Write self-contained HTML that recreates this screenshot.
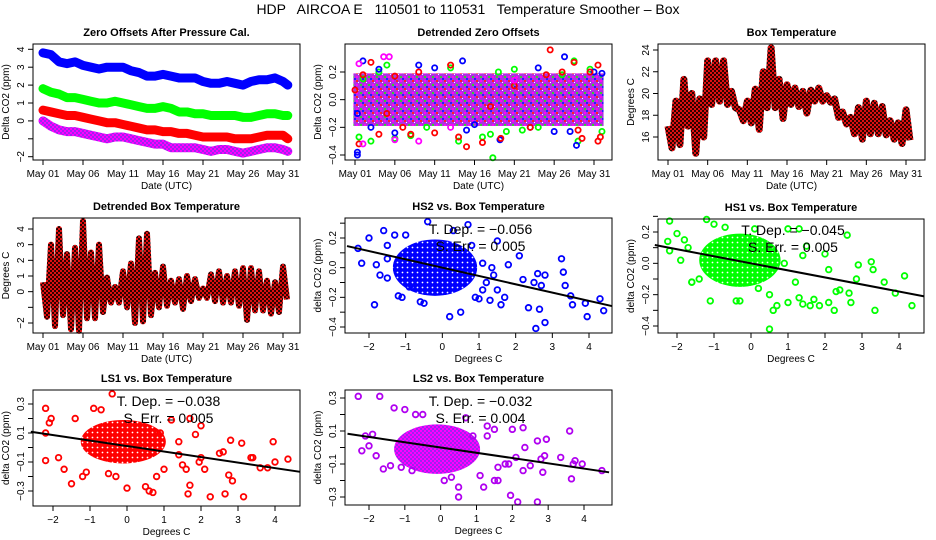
<!DOCTYPE html>
<html><head><meta charset="utf-8"><style>
html,body{margin:0;padding:0;background:#fff}
svg{display:block;font-family:"Liberation Sans",sans-serif}
</style></head><body>
<svg id="fig" width="936" height="540" viewBox="0 0 936 540">
<defs>
<pattern id="pat-blue" width="5" height="5" patternUnits="userSpaceOnUse"><rect width="5" height="5" fill="#0000ff"/><circle cx="2.5" cy="2.5" r="0.9" fill="#fff"/></pattern>
<pattern id="pat-green" width="5" height="5" patternUnits="userSpaceOnUse"><rect width="5" height="5" fill="#00ff00"/><circle cx="2.5" cy="2.5" r="0.9" fill="#fff"/></pattern>
<pattern id="pat-red" width="5" height="5" patternUnits="userSpaceOnUse"><rect width="5" height="5" fill="#ff0000"/><circle cx="2.5" cy="2.5" r="0.9" fill="#fff"/></pattern>
<pattern id="pat-purple" width="4" height="4" patternUnits="userSpaceOnUse"><rect width="4" height="4" fill="#a020f0"/><rect x="2" y="0" width="2" height="2" fill="#ff00ff"/><rect x="0" y="2" width="2" height="2" fill="#ff00ff"/></pattern>
<pattern id="pat-mix" width="8" height="8" patternUnits="userSpaceOnUse"><rect width="8" height="8" fill="#b030e0"/><rect x="0" y="0" width="2" height="2" fill="#ff00ff"/><rect x="4" y="4" width="2" height="2" fill="#ff00ff"/><rect x="4" y="0" width="2" height="2" fill="#ff2020"/><rect x="0" y="4" width="2" height="2" fill="#30d030"/><rect x="2" y="6" width="2" height="2" fill="#2020ff"/><rect x="6" y="2" width="1" height="1" fill="#fff"/></pattern>
<pattern id="pat-temp" width="4" height="4" patternUnits="userSpaceOnUse"><rect width="4" height="4" fill="#e01010"/><rect x="0" y="0" width="2" height="2" fill="#300000"/><rect x="2" y="2" width="2" height="2" fill="#300000"/></pattern>
</defs>
<text x="468" y="14" font-size="14" text-anchor="middle" xml:space="preserve" style="white-space:pre">HDP   AIRCOA E   110501 to 110531   Temperature Smoother – Box</text>
</svg>
<script>
// ---------- DATA ----------
const dayTicks = [0,5,10,15,20,25,30];
const dayLabels = ["May 01","May 06","May 11","May 16","May 21","May 26","May 31"];
const zeroDays = [0,1,2,3,4,5,6,7,8,9,10,11,12,13,14,15,16,17,18,19,20,21,22,23,24,25,26,27,28,29,30,30.6];
const zeroBlue = [3.8,3.7,3.3,3.2,3.3,3.1,3.0,2.9,3.0,3.0,3.0,2.8,2.7,2.5,2.5,2.6,2.5,2.4,2.4,2.4,2.2,2.1,2.1,2.2,2.1,2.0,2.2,2.3,2.3,2.4,2.2,2.0];
const zeroGreen = [1.8,1.6,1.5,1.3,1.3,1.2,1.1,1.0,1.0,1.1,1.0,0.9,0.8,0.7,0.7,0.8,0.7,0.5,0.5,0.4,0.4,0.3,0.3,0.3,0.3,0.2,0.2,0.3,0.4,0.4,0.3,0.3];
const zeroRed = [0.6,0.5,0.4,0.3,0.3,0.2,0.1,0.0,-0.1,-0.1,-0.2,-0.3,-0.4,-0.5,-0.5,-0.6,-0.6,-0.7,-0.7,-0.8,-0.9,-0.9,-0.9,-0.9,-1.0,-1.0,-1.0,-0.9,-0.8,-0.8,-0.8,-1.0];
const zeroPurple = [0.0,-0.3,-0.5,-0.6,-0.6,-0.7,-0.8,-0.9,-1.0,-0.9,-0.9,-1.0,-1.1,-1.2,-1.3,-1.3,-1.5,-1.5,-1.5,-1.5,-1.6,-1.7,-1.6,-1.6,-1.7,-1.8,-1.7,-1.6,-1.5,-1.5,-1.6,-1.7];

const detBandLo = -0.19, detBandHi = 0.19;
const detRed = [[0,0.07],[0.5,-0.32],[1,0.18],[2,0.27],[3,-0.25],[4,-0.1],[5,0.17],[6,-0.2],[7,-0.25],[8,0.2],[10,-0.24],[12,0.25],[13,-0.27],[14,-0.34],[16,-0.31],[17,-0.05],[18.3,-0.28],[20,0.1],[22,-0.2],[24,0.18],[24.5,0.36],[26,0.2],[27.5,0.27],[28,-0.22],[28.5,-0.28],[29.5,0.2],[30.5,0.25],[30.8,-0.27],[30.5,-0.3]];
const detGreen = [[0.5,-0.27],[1,0.15],[2,-0.3],[3,0.2],[4,0.25],[5,-0.28],[7,-0.26],[9,-0.2],[12,0.23],[13,-0.3],[16,-0.27],[17,-0.25],[17.3,-0.42],[18,0.2],[19,-0.23],[20,0.22],[21,-0.22],[23,-0.2],[26,0.18],[27.5,0.28],[28,-0.3],[29.5,0.22],[31,-0.23]];
const detBlue = [[0.3,-0.1],[0.3,-0.38],[0.3,-0.4],[1,0.28],[2,-0.2],[3,0.22],[5,-0.24],[8,0.25],[10,0.23],[13.5,0.28],[14,-0.22],[15,-0.18],[18.2,-0.29],[22,-0.2],[23,0.23],[25,-0.23],[26.3,0.31],[27,-0.23],[27.8,-0.33],[30,0.2],[31,0.19]];
const detMagenta = [[0.5,0.26],[1,-0.32],[3.6,0.31],[4.3,0.31],[5,-0.29],[8,-0.3],[12,-0.2],[20,0.14]];

const boxHi = [17,19.3,21.3,20,19.5,23,23,23,20.2,18.5,19.3,20.4,22,24.2,21.3,20.8,20.5,20.2,20.3,20.5,19.8,19.5,18.3,17.8,18.7,19.3,19.1,18.8,17.5,17.3,18.5];
const boxLo = [15,15.3,17,14.5,16,19,19.3,19,18.7,17.5,17.3,16.7,18.7,18.7,17.7,19,18.8,18.2,19.3,19.3,19.2,17.8,17.2,16.3,15.8,16.3,16.3,16.2,15.8,15.4,15.7];
const dbHi = [0.6,3,4,2.4,2.8,4.5,2.5,3,0.9,0.3,1.3,1.8,3.4,3.7,1.2,1.6,0.7,0.8,1,0.8,0.2,1.1,1.3,1,1.3,1.5,1.5,1.3,0.7,0.6,1.6];
const dbLo = [-1.6,-2.2,-1.5,-2.4,-2.5,-1.7,-1.7,-1.3,-0.7,-0.7,-1,-2,-1.9,-1.5,-1,-0.9,-0.7,-1.1,-0.6,-0.4,-0.4,-0.6,-0.7,-0.7,-0.9,-1.8,-1.2,-1.2,-1.4,-1.3,-0.5];

const hs2Pts = [[-2.3,0.13],[-2.2,0.03],[-2.0,0.2],[-1.8,0.02],[-1.85,-0.25],[-1.6,0.25],[-1.5,0.15],[-1.7,-0.05],[-1.5,-0.07],[-1.2,-0.19],[-1.1,-0.2],[-0.9,-0.13],[-0.6,-0.23],[-0.4,0.31],[-0.5,-0.24],[0.2,-0.33],[0.5,-0.3],[0.7,0.29],[0.9,-0.2],[1.0,-0.21],[1.1,0.03],[1.3,-0.22],[1.5,0.18],[1.6,-0.25],[1.7,-0.2],[1.8,0.02],[2.1,0.08],[2.2,-0.08],[2.35,-0.27],[2.5,-0.1],[2.55,-0.41],[2.6,-0.04],[2.65,-0.28],[2.7,-0.12],[2.8,-0.37],[2.8,-0.05],[3.25,0.06],[3.3,-0.03],[3.35,-0.12],[3.5,-0.19],[3.55,-0.25],[3.9,-0.24],[3.95,-0.33],[4.3,-0.21],[4.4,-0.29],[1.35,0.0],[1.4,-0.05],[1.2,-0.1],[0.8,0.15],[0.3,0.25],[-1.0,0.22],[-1.3,0.22],[-1.5,0.06],[1.5,-0.15],[1.1,-0.15]];
const hs1Pts = [[-2.2,0.27],[-2.25,0.14],[-2.2,0.08],[-2.0,0.19],[-1.9,0.02],[-1.8,0.15],[-1.6,-0.12],[-1.4,-0.1],[-1.1,-0.24],[-1.2,0.28],[-1.0,0.25],[-0.7,0.23],[-0.4,-0.24],[-0.3,-0.24],[0.1,0.22],[0.2,-0.16],[0.5,-0.42],[0.6,-0.3],[0.7,-0.27],[0.5,-0.2],[1.0,-0.25],[1.0,0.22],[1.3,-0.22],[1.3,0.22],[1.4,-0.26],[1.6,-0.27],[1.7,-0.23],[1.85,-0.27],[2.0,0.06],[2.1,-0.25],[2.1,-0.04],[2.25,-0.3],[2.3,-0.18],[2.4,-0.17],[2.6,0.18],[2.65,-0.19],[2.7,-0.25],[2.85,-0.1],[2.9,-0.01],[3.25,0.01],[3.3,-0.04],[3.35,-0.3],[3.6,-0.12],[3.9,-0.19],[4.15,-0.08],[4.35,-0.27],[1.4,0.05],[1.5,0.11],[1.2,-0.12],[0.9,0.0],[-1.6,-0.12],[-1.7,0.1]];
const ls1Pts = [[-2.2,0.27],[-2.2,0.1],[-2.05,0.2],[-2.1,0.17],[-2.2,-0.09],[-1.85,-0.07],[-1.7,-0.15],[-1.5,-0.25],[-1.4,0.2],[-1.2,-0.2],[-1.1,-0.17],[-0.9,0.27],[-0.7,0.26],[-0.5,-0.18],[-0.4,0.37],[-0.3,-0.2],[0.0,-0.28],[0.5,-0.27],[0.6,-0.3],[0.7,-0.31],[0.8,-0.2],[1.2,0.19],[1.4,0.04],[1.5,-0.12],[1.6,-0.15],[1.65,-0.32],[1.7,-0.26],[1.7,0.2],[1.85,0.09],[1.95,-0.1],[2.0,0.15],[2.0,-0.07],[2.1,-0.15],[2.25,-0.34],[2.5,-0.04],[2.6,-0.03],[2.8,0.05],[2.75,-0.19],[2.85,-0.23],[2.65,-0.32],[3.1,0.03],[3.15,-0.34],[3.35,-0.07],[3.4,-0.07],[3.6,-0.14],[3.8,-0.14],[3.95,0.04],[4.0,-0.1],[4.35,-0.08],[1.4,-0.05],[1.0,-0.15],[0.9,0.1]];
const ls2Pts = [[-2.3,0.31],[-1.7,0.31],[-1.3,0.24],[-1.0,0.23],[-2.2,-0.02],[-2.0,0.01],[-2.1,0.07],[-1.9,0.08],[-1.8,-0.05],[-1.6,-0.13],[-1.4,-0.11],[-1.1,-0.12],[-0.8,-0.14],[-0.5,0.2],[-0.7,0.2],[0.1,-0.2],[0.3,-0.18],[0.5,-0.24],[0.5,-0.3],[0.7,0.18],[0.9,0.07],[1.1,-0.17],[1.2,-0.24],[1.3,0.07],[1.5,-0.2],[1.6,-0.2],[1.6,-0.12],[1.8,-0.1],[1.9,-0.1],[1.95,-0.29],[2.0,0.11],[2.1,-0.06],[2.15,-0.33],[2.3,0.12],[2.3,-0.14],[2.35,0.0],[2.5,-0.11],[2.7,0.04],[2.7,-0.33],[2.8,-0.07],[2.85,-0.15],[2.9,-0.05],[2.95,0.05],[3.35,-0.06],[3.6,0.1],[3.65,-0.19],[3.7,-0.1],[3.75,-0.08],[3.95,-0.1],[4.5,-0.14],[1.3,0.13],[1.5,0.11]];
const hs2Core = [-0.2,0.0,1.15,0.19];
const hs1Core = [-0.3,0.02,1.1,0.17];
const ls1Core = [-0.1,0.04,1.15,0.15];
const ls2Core = [-0.1,-0.01,1.2,0.15];
const hs2Fit = [0.0,-0.056]; const hs1Fit = [0.0,-0.045]; const ls1Fit = [0.01,-0.038]; const ls2Fit = [0.0,-0.032];
const hs2Stats = ["−0.056","0.005"]; const hs1Stats = ["−0.045","0.005"]; const ls1Stats = ["−0.038","0.005"]; const ls2Stats = ["−0.032","0.004"];
const ticks02 = [0.2,0.0,-0.2,-0.4]; const ticks02lab = ["0.2","0.0","−0.2","−0.4"];
const ticks03 = [0.3,0.1,-0.1,-0.3]; const ticks03lab = ["0.3","0.1","−0.1","−0.3"];
const xTicks = [-2,-1,0,1,2,3,4]; const xLabs = ["−2","−1","0","1","2","3","4"];

// ---------- DRAW ----------
const NS = "http://www.w3.org/2000/svg";
const svg = document.getElementById("fig");
function mk(tag, attrs, parent){const e=document.createElementNS(NS,tag);for(const k in attrs)e.setAttribute(k,attrs[k]);(parent||svg).appendChild(e);return e;}
function lin(d0,p0,d1,p1){return v=>p0+(v-d0)*(p1-p0)/(d1-d0);}

function frame(p){
  const g=mk("g",{});
  
  
  const t=mk("text",{x:(p.L+p.R)/2,y:p.T-8,"font-size":11,"font-weight":"bold","text-anchor":"middle"},g);
  t.textContent=p.title;
  
  
  const yl=mk("text",{transform:`translate(${p.L-24},${(p.T+p.B)/2}) rotate(-90)`,"font-size":10,"text-anchor":"middle"},g);
  yl.textContent=p.ylab;
  
  
  const xl=mk("text",{x:(p.L+p.R)/2,y:p.B+29,"font-size":10,"text-anchor":"middle"},g);
  xl.textContent=p.xlab;
  
  
  p.xt.forEach((v,i)=>{const x=p.sx(v);
    const tk=mk("line",{x1:x,x2:x,y1:p.B,y2:p.B+5,stroke:"#000"},g);
    
    
    const tl=mk("text",{x:x,y:p.B+17,"font-size":10,"text-anchor":"middle"},g);
    tl.textContent=p.xl[i];
    
    
  });
  (p.ytMinor||[]).forEach(v=>{const y=p.sy(v);
    const tk=mk("line",{x1:p.L-5,x2:p.L,y1:y,y2:y,stroke:"#000"},g);
    
    
  });
  p.yt.forEach((v,i)=>{const y=p.sy(v);
    const tk=mk("line",{x1:p.L-5,x2:p.L,y1:y,y2:y,stroke:"#000"},g);
    
    
    const tl=mk("text",{transform:`translate(${p.L-9},${y}) rotate(-90)`,"font-size":10,"text-anchor":"middle"},g);
    tl.textContent=p.yl[i];
    
    
  });
  const plot=mk("g",{},g);
  
  
  p.g=plot;
  return p;
}
function boxOn(p){
  const b=mk("rect",{x:p.L,y:p.T,width:p.R-p.L,height:p.B-p.T,fill:"none",stroke:"#000","stroke-width":1},p.g.parentNode);
  
  
}
function pt(p,x,y,color,r){
  const c=mk("circle",{cx:p.sx(x),cy:p.sy(y),r:r||2.6,fill:"none",stroke:color,"stroke-width":1.8},p.g);
  
  
}

// Panel 1: Zero offsets
const p1=frame({name:"zero-offsets-panel",title:"Zero Offsets After Pressure Cal.",ylab:"Delta CO2 (ppm)",xlab:"Date (UTC)",
  L:33,R:300,T:44,B:160,sx:lin(0,43,30,283),sy:lin(4,49.3,-2,156.7),xt:dayTicks,xl:dayLabels,yt:[4,3,2,1,0,-2],yl:["4","3","2","1","0","−2"],ytMinor:[-1]});
[[zeroBlue,"#0000ff","zero-series-blue"],[zeroGreen,"#00ff00","zero-series-green"],[zeroRed,"#ff0000","zero-series-red"],[zeroPurple,"url(#pat-purple)","zero-series-purple"]].forEach(s=>{
  const d=zeroDays.map((t,i)=>(i?"L":"M")+p1.sx(t)+","+p1.sy(s[0][i])).join("");
  const pl=mk("path",{d:d,fill:"none",stroke:s[1],"stroke-width":9,"stroke-linejoin":"round","stroke-linecap":"round"},p1.g);
  
  
});
boxOn(p1);

// Panel 2: Detrended zero offsets
const p2=frame({name:"detrended-zero-offsets-panel",title:"Detrended Zero Offsets",ylab:"Delta CO2 (ppm)",xlab:"Date (UTC)",
  L:345,R:612,T:44,B:160,sx:lin(0,355,30,594),sy:lin(0.2,72,-0.4,155),xt:dayTicks,xl:dayLabels,yt:ticks02,yl:ticks02lab});
const band=mk("rect",{x:p2.sx(-0.2),y:p2.sy(detBandHi),width:p2.sx(31.2)-p2.sx(-0.2),height:p2.sy(detBandLo)-p2.sy(detBandHi),fill:"url(#pat-mix)"},p2.g);


detGreen.forEach(d=>pt(p2,d[0],d[1],"#00ff00"));
detBlue.forEach(d=>pt(p2,d[0],d[1],"#0000ff"));
detRed.forEach(d=>pt(p2,d[0],d[1],"#ff0000"));
detMagenta.forEach(d=>pt(p2,d[0],d[1],"#ff00ff"));
boxOn(p2);

// Panel 3: Box temperature
function oscPath(p,hi,lo){let d="";hi.forEach((h,i)=>{d+=(i?"L":"M")+p.sx(i)+","+p.sy(h)+"L"+p.sx(i+0.5)+","+p.sy(lo[i]);});return d;}
const p3=frame({name:"box-temperature-panel",title:"Box Temperature",ylab:"Degrees C",xlab:"Date (UTC)",
  L:658,R:925,T:44,B:160,sx:lin(0,668,30,906),sy:lin(24,50,16,137),xt:dayTicks,xl:dayLabels,yt:[24,22,20,18,16],yl:["24","22","20","18","16"]});
const bt=mk("path",{d:oscPath(p3,boxHi,boxLo),fill:"none",stroke:"url(#pat-temp)","stroke-width":7,"stroke-linejoin":"round"},p3.g);


boxOn(p3);

// Panel 4: Detrended box temperature
const p4=frame({name:"detrended-box-temperature-panel",title:"Detrended Box Temperature",ylab:"Degrees C",xlab:"Date (UTC)",
  L:33,R:300,T:218,B:333,sx:lin(0,43,30,283),sy:lin(4,229,-2,323),xt:dayTicks,xl:dayLabels,yt:[4,3,2,1,0,-2],yl:["4","3","2","1","0","−2"],ytMinor:[-1]});
const db=mk("path",{d:oscPath(p4,dbHi,dbLo),fill:"none",stroke:"url(#pat-temp)","stroke-width":6,"stroke-linejoin":"round"},p4.g);


boxOn(p4);

// Scatter panels
function scatter(cfg,pts,core,fit,stats,color,fillPat){
  const p=frame(cfg);
  const e=mk("ellipse",{cx:p.sx(core[0]),cy:p.sy(core[1]),rx:p.sx(core[0]+core[2])-p.sx(core[0]),ry:p.sy(core[1])-p.sy(core[1]+core[3]),fill:fillPat},p.g);
  
  
  pts.forEach(d=>pt(p,d[0],d[1],color,2.8));
  const x0=-2.6,x1=4.7;
  const fl=mk("line",{x1:p.sx(x0),y1:p.sy(fit[0]+fit[1]*x0),x2:p.sx(x1),y2:p.sy(fit[0]+fit[1]*x1),stroke:"#000","stroke-width":2},p.g);
  
  
  const cx=(p.L+p.R)/2+2;
  const t1=mk("text",{x:cx,y:p.T+16,"font-size":14,"text-anchor":"middle"},p.g);
  t1.textContent="T. Dep. =  "+stats[0];
  
  
  const t2=mk("text",{x:cx,y:p.T+33,"font-size":14,"text-anchor":"middle"},p.g);
  t2.textContent="S. Err. =  "+stats[1];
  
  
  const b=mk("rect",{x:p.R+0.5,y:p.T-2,width:20,height:p.B-p.T+4,fill:"#fff"},p.g.parentNode);
  
  
  boxOn(p);
}
scatter({name:"hs2-scatter-panel",title:"HS2 vs. Box Temperature",ylab:"delta CO2 (ppm)",xlab:"Degrees C",
  L:345,R:612,T:218,B:333,sx:lin(-2,369,4,589),sy:lin(0.2,238,-0.4,327),xt:xTicks,xl:xLabs,yt:ticks02,yl:ticks02lab,ytMinor:[0.3,0.1,-0.1,-0.3]},hs2Pts,hs2Core,hs2Fit,hs2Stats,"#0000ff","url(#pat-blue)");
scatter({name:"hs1-scatter-panel",title:"HS1 vs. Box Temperature",ylab:"delta CO2 (ppm)",xlab:"Degrees C",
  L:658,R:924,T:219,B:333,sx:lin(-2,677,4,899),sy:lin(0.2,232,-0.4,326),xt:xTicks,xl:xLabs,yt:ticks02,yl:ticks02lab,ytMinor:[0.3,0.1,-0.1,-0.3]},hs1Pts,hs1Core,hs1Fit,hs1Stats,"#00ff00","url(#pat-green)");
scatter({name:"ls1-scatter-panel",title:"LS1 vs. Box Temperature",ylab:"delta CO2 (ppm)",xlab:"Degrees C",
  L:33,R:300,T:390,B:506,sx:lin(-2,53,4,275),sy:lin(0.3,404,-0.3,491),xt:xTicks,xl:xLabs,yt:ticks03,yl:ticks03lab,ytMinor:[0.2,0.0,-0.2]},ls1Pts,ls1Core,ls1Fit,ls1Stats,"#ff0000","url(#pat-red)");
scatter({name:"ls2-scatter-panel",title:"LS2 vs. Box Temperature",ylab:"delta CO2 (ppm)",xlab:"Degrees C",
  L:345,R:612,T:390,B:505,sx:lin(-2,369,4,584),sy:lin(0.3,398,-0.3,497),xt:xTicks,xl:xLabs,yt:ticks03,yl:ticks03lab,ytMinor:[0.2,0.0,-0.2]},ls2Pts,ls2Core,ls2Fit,ls2Stats,"#b000f0","url(#pat-purple)");
</script>
</body></html>
